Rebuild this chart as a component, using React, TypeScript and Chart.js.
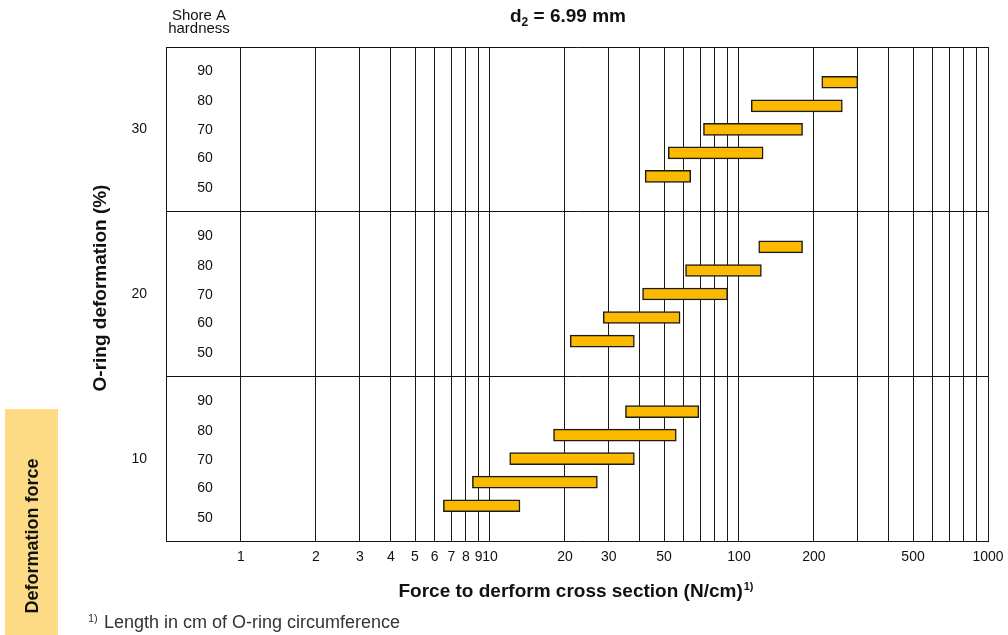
import React, { useEffect, useRef } from 'react';
import { Chart, registerables } from 'chart.js';

Chart.register(...registerables);

// ---- data ----
const deformationLevels = ['30', '20', '10'];
const hardnessLevels = ['90', '80', '70', '60', '50'];

const force30Min = [215, 112, 72, 52, 42];
const force30Max = [300, 260, 180, 125, 64];
const force20Min = [120, 61, 41, 28.5, 21];
const force20Max = [180, 123, 90, 58, 38];
const force10Min = [35, 18, 12, 8.5, 6.5];
const force10Max = [69, 56, 38, 27, 13.2];

const xGridValues = [
  1, 2, 3, 4, 5, 6, 7, 8, 9,
  10, 20, 30, 40, 50, 60, 70, 80, 90,
  100, 200, 300, 400, 500, 600, 700, 800, 900,
  1000,
];
const xLabelValues = [1, 2, 3, 4, 5, 6, 7, 8, 9, 10, 20, 30, 50, 100, 200, 500, 1000];

const FONT = '"Liberation Sans", Arial, Helvetica, sans-serif';

// ---- build category rows (blank row above and below each deformation band) ----
const bandMins = [force30Min, force20Min, force10Min];
const bandMaxs = [force30Max, force20Max, force10Max];
const categories: string[] = [];
const ranges: ([number, number] | null)[] = [];
deformationLevels.forEach((d, b) => {
  categories.push(`${d}-top`);
  ranges.push(null);
  hardnessLevels.forEach((h, r) => {
    categories.push(`${d}-${h}`);
    ranges.push([bandMins[b][r], bandMaxs[b][r]]);
  });
  categories.push(`${d}-bottom`);
  ranges.push(null);
});
const ROWS_PER_BAND = hardnessLevels.length + 2;

const hardnessOffsets = [-58, -28, 1, 29, 59];

const decorations = {
  id: 'decorations',
  afterDraw(chart: any) {
    const { ctx, scales } = chart;
    const y = scales.y;
    ctx.save();

    // side tab
    ctx.fillStyle = '#FCDB84';
    ctx.fillRect(5, 409, 53, 226);
    ctx.save();
    ctx.translate(33, 536);
    ctx.rotate(-Math.PI / 2);
    ctx.fillStyle = '#111';
    ctx.font = `bold 18px ${FONT}`;
    ctx.textAlign = 'center';
    ctx.textBaseline = 'middle';
    ctx.fillText('Deformation force', 0, 0);
    ctx.restore();

    // header "Shore A hardness"
    ctx.fillStyle = '#111';
    ctx.font = `15px ${FONT}`;
    ctx.textAlign = 'center';
    ctx.textBaseline = 'alphabetic';
    ctx.fillText('Shore A', 199, 20);
    ctx.fillText('hardness', 199, 33);

    // title d2 = 6.99 mm
    const big = `bold 19px ${FONT}`;
    const small = `bold 12px ${FONT}`;
    ctx.font = big;
    const wD = ctx.measureText('d').width;
    const rest = ' = 6.99 mm';
    const wRest = ctx.measureText(rest).width;
    ctx.font = small;
    const wSub = ctx.measureText('2').width;
    let x0 = 568 - (wD + wSub + wRest) / 2;
    ctx.textAlign = 'left';
    ctx.font = big;
    ctx.fillText('d', x0, 22);
    ctx.font = small;
    ctx.fillText('2', x0 + wD, 26);
    ctx.font = big;
    ctx.fillText(rest, x0 + wD + wSub, 22);

    // hardness labels inside the plot
    ctx.font = `14px ${FONT}`;
    ctx.textAlign = 'center';
    ctx.textBaseline = 'middle';
    deformationLevels.forEach((_, b) => {
      const mid = y.getPixelForValue(b * ROWS_PER_BAND + 3);
      hardnessLevels.forEach((h, r) => {
        ctx.fillText(h, 205, mid + hardnessOffsets[r]);
      });
    });

    // y axis title
    ctx.save();
    ctx.translate(101, 288);
    ctx.rotate(-Math.PI / 2);
    ctx.font = `bold 19px ${FONT}`;
    ctx.textAlign = 'center';
    ctx.textBaseline = 'middle';
    ctx.fillText('O-ring deformation (%)', 0, 0);
    ctx.restore();

    // x axis title with superscript
    ctx.textBaseline = 'alphabetic';
    ctx.textAlign = 'left';
    const xMain = 'Force to derform cross section (N/cm)';
    ctx.font = big;
    const wMain = ctx.measureText(xMain).width;
    ctx.font = `bold 11px ${FONT}`;
    const wSup = ctx.measureText('1)').width;
    x0 = 576 - (wMain + wSup + 1) / 2;
    ctx.font = big;
    ctx.fillText(xMain, x0, 597);
    ctx.font = `bold 11px ${FONT}`;
    ctx.fillText('1)', x0 + wMain + 1, 590);

    // footnote
    ctx.fillStyle = '#333';
    ctx.font = `11px ${FONT}`;
    ctx.fillText('1)', 88, 622);
    ctx.font = `18px ${FONT}`;
    ctx.fillText('Length in cm of O-ring circumference', 104, 628);

    ctx.restore();
  },
};

export default function App() {
  const canvasRef = useRef<HTMLCanvasElement | null>(null);

  useEffect(() => {
    if (!canvasRef.current) return;
    const chart = new Chart(canvasRef.current, {
      type: 'bar',
      data: {
        labels: categories,
        datasets: [
          {
            data: ranges as any,
            backgroundColor: '#FBB900',
            borderColor: '#1a1a1a',
            borderWidth: 1.5,
            borderSkipped: false,
            barThickness: 12,
          },
        ],
      },
      options: {
        animation: false,
        responsive: true,
        maintainAspectRatio: false,
        indexAxis: 'y',
        layout: { padding: { top: 47, right: 20, left: 0, bottom: 0 } },
        plugins: {
          legend: { display: false },
          tooltip: { enabled: false },
          title: { display: false },
        },
        scales: {
          x: {
            type: 'logarithmic',
            position: 'bottom',
            min: 0.5,
            max: 1000,
            bounds: 'data',
            afterBuildTicks: (s: any) => {
              s.ticks = xGridValues.map((v) => ({ value: v }));
            },
            afterFit: (s: any) => {
              s.height = 94;
              s.paddingLeft = 0;
              s.paddingRight = 0;
            },
            ticks: {
              autoSkip: false,
              maxRotation: 0,
              minRotation: 0,
              padding: 8,
              color: '#111',
              font: { family: FONT, size: 14 },
              callback: (v: any) => (xLabelValues.includes(Number(v)) ? String(v) : ''),
            },
            grid: { color: '#1a1a1a', lineWidth: 1, drawTicks: false },
            border: { display: true, color: '#111', width: 1 },
          },
          y: {
            type: 'category',
            position: 'left',
            afterFit: (s: any) => {
              s.width = 166;
              s.paddingTop = 0;
              s.paddingBottom = 0;
            },
            ticks: {
              autoSkip: false,
              padding: 19,
              color: '#111',
              font: { family: FONT, size: 14 },
              callback: (_v: any, i: number) =>
                i % ROWS_PER_BAND === 3 ? deformationLevels[Math.floor(i / ROWS_PER_BAND)] : '',
            },
            grid: {
              color: (c: any) => (typeof c.index === 'number' && c.index % ROWS_PER_BAND === 0 ? '#111' : 'rgba(0,0,0,0)'),
              lineWidth: 1,
              drawTicks: false,
            },
            border: { display: true, color: '#111', width: 1 },
          },
        },
      } as any,
      plugins: [decorations],
    });
    return () => chart.destroy();
  }, []);

  return (
    <div style={{ position: 'absolute', left: 0, top: 0, width: 1008, height: 635, background: '#fff' }}>
      <canvas ref={canvasRef} />
    </div>
  );
}
